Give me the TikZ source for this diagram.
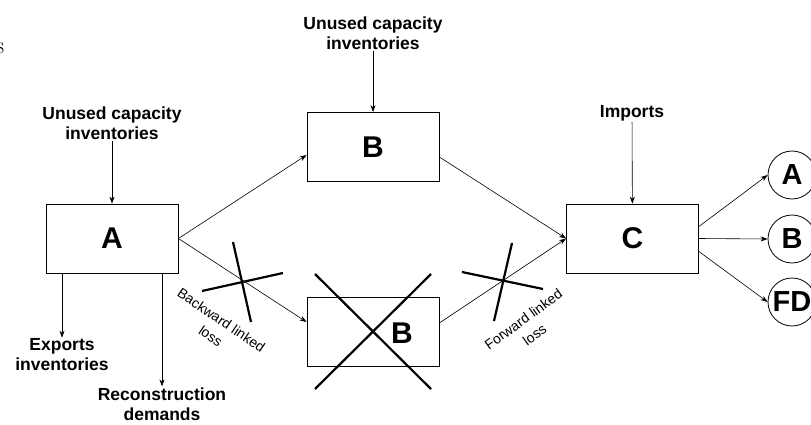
\documentclass[tikz,border=0pt]{standalone}
\usepackage{fontspec}
\setsansfont{Liberation Sans}
\usetikzlibrary{arrows.meta}

\tikzset{
  sector/.style={draw, line width=0.8pt, minimum width=132pt, minimum height=69pt, inner sep=0pt,
    font=\sffamily\bfseries\fontsize{30}{30}\selectfont},
  final/.style={draw, circle, line width=0.8pt, minimum size=48pt, inner sep=0pt,
    font=\sffamily\bfseries\fontsize{29}{29}\selectfont},
  flow/.style={-{Stealth[length=7pt,width=5pt]}, line width=0.6pt},
  cut/.style={line width=2.2pt},
  tag/.style={font=\sffamily\bfseries\fontsize{17.5}{20}\selectfont, align=center, inner sep=1pt},
  losstag/.style={font=\sffamily\fontsize{14}{19}\selectfont, align=center, inner sep=0pt},
}

\begin{document}
\begin{tikzpicture}[x=1pt,y=-1pt]
			\useasboundingbox (0,0) rectangle (811,425);
			\node[anchor=east, inner sep=0pt, font=\fontsize{24}{24}\selectfont] (stray) at (4.5,48) {s};
			% sectors
			\node[sector] (boxA) at (112,238.5) {A};
			\node[sector] (boxB) at (373,147) {B};
			\node[sector] (boxBx) at (373,332) {};
			\node[inner sep=0pt, font=\sffamily\bfseries\fontsize{30}{30}\selectfont] (lblBx) at (402,333) {B};
			\node[sector] (boxC) at (632.5,238.5) {C};
			\node[final] (finA) at (792,175) {A};
			\node[final] (finB) at (792,239) {B};
			\node[final] (finFD) at (792,302) {FD};
			% labels
			\node[tag] (unusedA) at (112,123) {Unused capacity\\inventories};
			\node[tag] (unusedB) at (373,33) {Unused capacity\\inventories};
			\node[tag] (imports) at (632,113) {Imports};
			\node[tag] (exports) at (62,355) {Exports\\inventories};
			\node[tag] (recon) at (162,404) {Reconstruction\\demands};
			\node[losstag, rotate=-34] (backloss) at (216,328) {Backward linked\\loss};
			\node[losstag, rotate=36] (fwdloss) at (529,327) {Forward linked\\loss};
			% flows
			\draw[flow](unusedA) -- (boxA);
			\draw[flow](unusedB) -- (boxB);
			\draw[flow](imports) -- (boxC);
			\draw[flow](exports.north |- boxA.south) -- (exports);
			\draw[flow](recon.north |- boxA.south) -- (recon);
			\draw[flow](boxA.east) -- ([yshift=-8pt]boxB.west);
			\draw[flow](boxA.east) -- ([yshift=10pt]boxBx.west);
			\draw[flow]([yshift=-10pt]boxB.east) -- (boxC.west);
			\draw[flow]([yshift=9pt]boxBx.east) -- (boxC.west);
			\draw[flow]([yshift=12pt]boxC.east) -- (finA.west);
			\draw[flow](boxC.east) -- (finB.west);
			\draw[flow]([yshift=-13pt]boxC.east) -- (finFD.west);
			% cuts
			\draw[cut](233,242) -- (251,322);
			\draw[cut](202,291) -- (283,273);
			\draw[cut](315,274) -- (431,389);
			\draw[cut](315,389) -- (431,274);
			\draw[cut](512,243) -- (494,321);
			\draw[cut](462,272) -- (543,289);
		\end{tikzpicture}
\end{document}
